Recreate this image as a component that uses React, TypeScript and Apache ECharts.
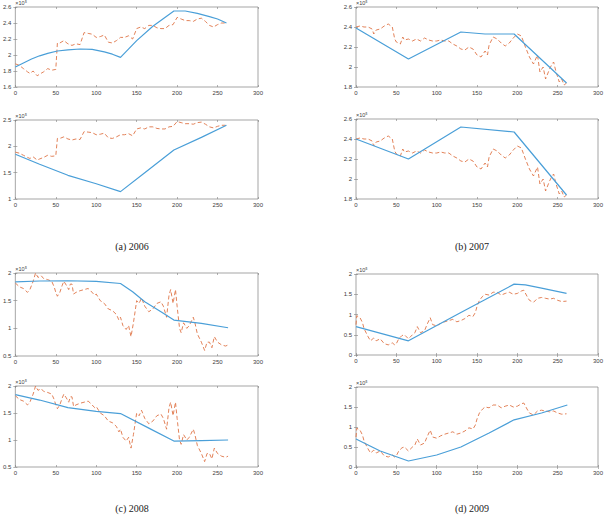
import React, { useEffect, useRef } from "react";
import * as echarts from "echarts";

// Daily index level (×10^5) against trading day, one array per year.
const days2006 = [0, 5, 10, 15, 18, 22, 27, 30, 35, 40, 45, 50, 52, 55, 60, 65, 70, 75, 80, 85, 90, 95, 100, 105, 110, 115, 120, 125, 130, 135, 140, 145, 150, 155, 160, 165, 170, 175, 180, 185, 190, 195, 200, 205, 210, 215, 220, 225, 230, 235, 240, 245, 250, 255, 260];
const level2006 = [1.89, 1.87, 1.83, 1.79, 1.77, 1.8, 1.74, 1.76, 1.79, 1.83, 1.81, 1.82, 2.15, 2.15, 2.18, 2.14, 2.12, 2.14, 2.13, 2.28, 2.27, 2.26, 2.22, 2.23, 2.25, 2.16, 2.15, 2.18, 2.22, 2.22, 2.24, 2.2, 2.33, 2.35, 2.33, 2.37, 2.37, 2.34, 2.33, 2.33, 2.37, 2.38, 2.47, 2.45, 2.43, 2.43, 2.42, 2.45, 2.46, 2.42, 2.37, 2.35, 2.38, 2.4, 2.4];

const days2007 = [0, 5, 10, 15, 20, 22, 25, 30, 35, 40, 45, 48, 50, 55, 58, 60, 65, 70, 75, 80, 85, 90, 95, 100, 105, 110, 115, 120, 125, 130, 135, 140, 145, 150, 155, 160, 163, 165, 170, 175, 180, 185, 190, 195, 200, 205, 210, 215, 220, 225, 228, 232, 235, 240, 243, 245, 248, 252, 255, 258, 261];
const level2007 = [2.4, 2.41, 2.4, 2.4, 2.38, 2.33, 2.37, 2.38, 2.41, 2.43, 2.4, 2.28, 2.25, 2.23, 2.3, 2.27, 2.28, 2.26, 2.28, 2.26, 2.29, 2.27, 2.26, 2.26, 2.27, 2.26, 2.26, 2.23, 2.21, 2.18, 2.17, 2.2, 2.18, 2.12, 2.1, 2.16, 2.12, 2.22, 2.3, 2.28, 2.24, 2.21, 2.24, 2.29, 2.33, 2.31, 2.2, 2.1, 2.03, 2.12, 1.95, 2.0, 1.88, 1.98, 2.03, 2.05, 1.95, 1.85, 1.88, 1.82, 1.84];

const days2008 = [0, 5, 10, 15, 18, 22, 25, 28, 32, 35, 40, 45, 48, 50, 52, 55, 58, 60, 63, 66, 68, 70, 72, 75, 80, 85, 90, 93, 98, 100, 105, 110, 115, 120, 125, 128, 130, 133, 137, 140, 143, 146, 150, 153, 156, 160, 165, 170, 175, 180, 183, 187, 190, 192, 195, 198, 200, 203, 205, 208, 212, 215, 220, 222, 225, 230, 234, 237, 240, 243, 246, 250, 255, 260, 263];
const level2008 = [1.82, 1.75, 1.72, 1.65, 1.7, 1.85, 2.0, 1.92, 1.95, 1.9, 1.88, 1.85, 1.75, 1.65, 1.58, 1.65, 1.78, 1.85, 1.78, 1.7, 1.8, 1.8, 1.62, 1.65, 1.68, 1.7, 1.72, 1.68, 1.6, 1.62, 1.5, 1.45, 1.35, 1.32, 1.25, 1.15, 1.2, 1.05, 0.98, 1.05, 0.85, 1.1, 1.5, 1.45, 1.55, 1.4, 1.3, 1.35, 1.45, 1.48, 1.4, 1.2, 1.6, 1.7, 1.45, 1.7, 1.4, 1.0, 0.92, 1.1, 1.0, 1.05, 1.2, 1.1, 0.9, 0.75, 0.6, 0.75, 0.75, 0.65, 0.85, 0.75, 0.7, 0.68, 0.7];

const days2009 = [0, 1, 5, 8, 10, 15, 18, 22, 25, 30, 35, 40, 45, 48, 50, 53, 57, 60, 65, 70, 73, 76, 80, 85, 88, 92, 95, 100, 105, 110, 115, 120, 125, 130, 135, 140, 145, 148, 150, 153, 157, 160, 165, 170, 175, 180, 185, 190, 195, 200, 205, 208, 212, 215, 220, 225, 230, 235, 240, 245, 250, 255, 261];
const level2009 = [0.75, 0.97, 0.92, 0.8, 0.65, 0.45, 0.35, 0.42, 0.35, 0.4, 0.28, 0.25, 0.3, 0.25, 0.28, 0.4, 0.48, 0.5, 0.4, 0.5, 0.55, 0.7, 0.55, 0.6, 0.75, 0.92, 0.75, 0.72, 0.78, 0.82, 0.85, 0.88, 0.82, 0.85, 0.9, 0.98, 0.95, 1.05, 1.2, 1.35, 1.45, 1.5, 1.48, 1.55, 1.55, 1.48, 1.52, 1.55, 1.5, 1.52, 1.58, 1.6, 1.45, 1.35, 1.3, 1.4, 1.42, 1.4, 1.38, 1.4, 1.35, 1.32, 1.33];

// Fitted curves, upper and lower panel of each year.
const fitDays2006Upper = [0, 10, 20, 30, 40, 52, 65, 80, 95, 110, 120, 130, 150, 170, 196, 210, 225, 240, 250, 261];
const fit2006Upper = [1.85, 1.9, 1.95, 1.99, 2.02, 2.05, 2.065, 2.075, 2.07, 2.04, 2.01, 1.97, 2.18, 2.36, 2.55, 2.55, 2.52, 2.48, 2.45, 2.4];
const fitDays2006Lower = [0, 30, 65, 100, 130, 160, 196, 230, 261];
const fit2006Lower = [1.85, 1.66, 1.45, 1.29, 1.14, 1.5, 1.93, 2.17, 2.4];

const fitDays2007Upper = [0, 65, 130, 160, 196, 261];
const fit2007Upper = [2.39, 2.08, 2.35, 2.33, 2.33, 1.84];
const fitDays2007Lower = [0, 65, 130, 196, 261];
const fit2007Lower = [2.4, 2.2, 2.52, 2.47, 1.84];

const fitDays2008Upper = [0, 30, 65, 100, 130, 145, 160, 180, 196, 230, 263];
const fit2008Upper = [1.84, 1.855, 1.86, 1.85, 1.81, 1.66, 1.48, 1.3, 1.15, 1.09, 1.01];
const fitDays2008Lower = [0, 30, 65, 100, 130, 165, 196, 230, 263];
const fit2008Lower = [1.84, 1.74, 1.6, 1.53, 1.49, 1.22, 0.98, 0.99, 1.0];

const fitDays2009Upper = [0, 65, 130, 196, 210, 230, 261];
const fit2009Upper = [0.7, 0.35, 1.05, 1.75, 1.73, 1.65, 1.52];
const fitDays2009Lower = [0, 30, 65, 100, 130, 165, 196, 230, 262];
const fit2009Lower = [0.7, 0.4, 0.15, 0.3, 0.5, 0.85, 1.18, 1.35, 1.55];

// Y-axis ranges per panel: [min, max, step]
const yRange2006Upper = [1.6, 2.6, 0.2];
const yRange2006Lower = [1, 2.5, 0.5];
const yRange2007 = [1.8, 2.6, 0.2];
const yRange2008 = [0.5, 2, 0.5];
const yRange2009 = [0, 2, 0.5];

const captions = ["(a) 2006", "(b) 2007", "(c) 2008", "(d) 2009"];
const exponentLabel = "×10⁵";

const zip = (xs: number[], ys: number[]) => xs.map((x, i) => [x, ys[i]]);

const BLUE = "#4a9fd8";
const ORANGE = "#df7446";
const AXIS = "#808080";
const TEXT = "#404040";
const SANS = "Liberation Sans";
const SERIF = "Liberation Serif";

export default function App() {
  const ref = useRef<HTMLDivElement>(null);

  useEffect(() => {
    if (!ref.current) return;
    const chart = echarts.init(ref.current, null, { renderer: "svg" });

    const panels = [
      { box: { left: 15, top: 6, width: 243, height: 81 }, y: yRange2006Upper, days: days2006, level: level2006, fd: fitDays2006Upper, fit: fit2006Upper },
      { box: { left: 15, top: 120, width: 243, height: 79 }, y: yRange2006Lower, days: days2006, level: level2006, fd: fitDays2006Lower, fit: fit2006Lower },
      { box: { left: 356, top: 6, width: 242, height: 81 }, y: yRange2007, days: days2007, level: level2007, fd: fitDays2007Upper, fit: fit2007Upper },
      { box: { left: 356, top: 119, width: 242, height: 80 }, y: yRange2007, days: days2007, level: level2007, fd: fitDays2007Lower, fit: fit2007Lower },
      { box: { left: 15, top: 273, width: 243, height: 83 }, y: yRange2008, days: days2008, level: level2008, fd: fitDays2008Upper, fit: fit2008Upper },
      { box: { left: 15, top: 386, width: 243, height: 81 }, y: yRange2008, days: days2008, level: level2008, fd: fitDays2008Lower, fit: fit2008Lower },
      { box: { left: 356, top: 274, width: 242, height: 81 }, y: yRange2009, days: days2009, level: level2009, fd: fitDays2009Upper, fit: fit2009Upper },
      { box: { left: 356, top: 387, width: 242, height: 80 }, y: yRange2009, days: days2009, level: level2009, fd: fitDays2009Lower, fit: fit2009Lower },
    ];

    const fmt = (v: number) => String(+v.toFixed(2));
    const tick = { show: true, inside: true, length: 2, lineStyle: { color: AXIS, width: 0.6 } };
    const grid: any[] = [];
    const xAxis: any[] = [];
    const yAxis: any[] = [];
    const series: any[] = [];

    panels.forEach((p, i) => {
      grid.push({ ...p.box, show: true, borderColor: AXIS, borderWidth: 0.7, backgroundColor: "transparent" });
      const xBase = { type: "value", gridIndex: i, min: 0, max: 300, interval: 50, splitLine: { show: false }, axisLine: { show: false }, axisTick: tick };
      xAxis.push({ ...xBase, position: "bottom", axisLabel: { fontSize: 6, color: TEXT, margin: 3, fontFamily: SANS, formatter: fmt } });
      xAxis.push({ ...xBase, position: "top", axisLabel: { show: false } });
      const [ymin, ymax, ystep] = p.y;
      const yBase = { type: "value", gridIndex: i, min: ymin, max: ymax, interval: ystep, splitLine: { show: false }, axisLine: { show: false }, axisTick: tick };
      yAxis.push({
        ...yBase,
        position: "left",
        axisLabel: { fontSize: 6, color: TEXT, margin: 4, fontFamily: SANS, formatter: fmt },
        name: exponentLabel,
        nameLocation: "end",
        nameGap: 1,
        nameTextStyle: { fontSize: 5.5, color: TEXT, fontFamily: SANS, align: "left", verticalAlign: "bottom" },
      });
      yAxis.push({ ...yBase, position: "right", axisLabel: { show: false } });

      series.push({
        type: "line",
        xAxisIndex: 2 * i,
        yAxisIndex: 2 * i,
        data: zip(p.days, p.level),
        showSymbol: false,
        lineStyle: { color: ORANGE, width: 0.9, type: [4, 2.5] },
        z: 2,
      });
      series.push({
        type: "line",
        xAxisIndex: 2 * i,
        yAxisIndex: 2 * i,
        data: zip(p.fd, p.fit),
        showSymbol: false,
        lineStyle: { color: BLUE, width: 1.2 },
        z: 3,
      });
    });

    const captionPos = [
      [132, 246],
      [472, 246],
      [132, 508],
      [472, 508],
    ];

    chart.setOption({
      animation: false,
      backgroundColor: "#ffffff",
      textStyle: { fontFamily: SANS },
      grid,
      xAxis,
      yAxis,
      series,
      graphic: captions.map((t, i) => ({
        type: "text",
        x: captionPos[i][0],
        y: captionPos[i][1],
        style: {
          text: t,
          fontFamily: SERIF,
          fontSize: 10,
          fill: "#222",
          align: "center",
          verticalAlign: "middle",
        },
      })),
    });

    return () => chart.dispose();
  }, []);

  return (
    <div
      ref={ref}
      style={{ position: "absolute", left: 0, top: 0, width: 613, height: 523, background: "#fff" }}
    />
  );
}
